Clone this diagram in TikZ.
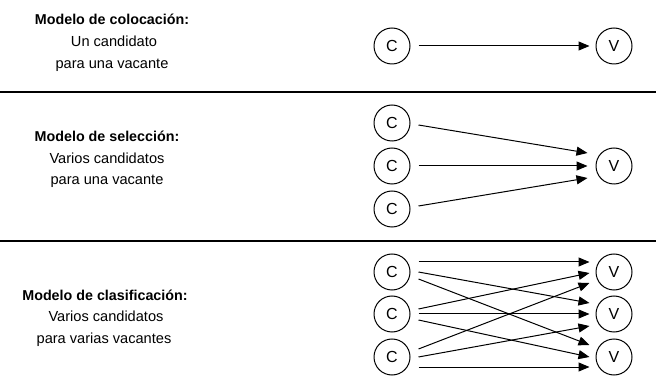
\documentclass[tikz,border=0pt]{standalone}
\usepackage{fontspec}
\setmainfont{Liberation Sans}
\usetikzlibrary{arrows.meta}
\begin{document}
\begin{tikzpicture}[x=1pt,y=-1pt,
  every node/.style={font=\fontsize{14.6}{18}\selectfont},
  circ/.style={draw,circle,minimum size=36pt,inner sep=0pt,line width=1pt,font=\fontsize{16}{18}\selectfont},
  lbl/.style={anchor=base},
  hd/.style={anchor=base,font=\fontsize{14.3}{18}\selectfont\bfseries},
  arr/.style={line width=1pt,-{Triangle[length=11pt,width=9pt]}},
  sep/.style={line width=1.4pt}]
\useasboundingbox (0,0) rectangle (656,387);
% separators
\coordinate (s1a) at (0,92); \coordinate (s1b) at (656,92);
\coordinate (s2a) at (0,241); \coordinate (s2b) at (656,241);
\draw[sep] (s1a) -- (s1b);
\draw[sep] (s2a) -- (s2b);
% panel 1
\node[hd] (t11) at (112,25) {Modelo de colocación:};
\node[lbl] (t12) at (114,47) {Un candidato};
\node[lbl] (t13) at (112,69) {para una vacante};
\node[circ] (a1) at (392,46) {C};
\node[circ] (av) at (614,46) {V};
\draw[arr] ([xshift=8pt]a1.east) -- ([xshift=-6pt]av.west);
% panel 2
\node[hd] (t21) at (107,142) {Modelo de selección:};
\node[lbl] (t22) at (107,164) {Varios candidatos};
\node[lbl] (t23) at (107,185) {para una vacante};
\node[circ] (b1) at (392,123) {C};
\node[circ] (b2) at (392,166) {C};
\node[circ] (b3) at (392,209) {C};
\node[circ] (bv) at (614,166) {V};
\draw[arr] ([xshift=8pt,yshift=-2pt]b1.east) -- ([xshift=-8pt,yshift=13pt]bv.west);
\draw[arr] ([xshift=8pt]b2.east) -- ([xshift=-8pt]bv.west);
\draw[arr] ([xshift=8pt,yshift=3pt]b3.east) -- ([xshift=-8pt,yshift=-12pt]bv.west);
% panel 3
\node[hd] (t31) at (105,301) {Modelo de clasificación:};
\node[lbl] (t32) at (106,322) {Varios candidatos};
\node[lbl] (t33) at (104,343) {para varias vacantes};
\node[circ] (c1) at (392,272) {C};
\node[circ] (c2) at (392,314) {C};
\node[circ] (c3) at (392,357) {C};
\node[circ] (v1) at (614,272) {V};
\node[circ] (v2) at (614,314) {V};
\node[circ] (v3) at (614,357) {V};
\draw[arr] ([xshift=8pt,yshift=10pt]c1.east) -- ([xshift=-6pt,yshift=10pt]v1.west);
\draw[arr] ([xshift=8pt]c1.east) -- ([xshift=-6pt,yshift=11pt]v2.west);
\draw[arr] ([xshift=8pt,yshift=-7pt]c1.east) -- ([xshift=-6pt,yshift=12pt]v3.west);
\draw[arr] ([xshift=8pt,yshift=5pt]c2.east) -- ([xshift=-6pt,yshift=-1pt]v1.west);
\draw[arr] ([xshift=8pt]c2.east) -- ([xshift=-6pt]v2.west);
\draw[arr] ([xshift=8pt,yshift=-6pt]c2.east) -- ([xshift=-6pt]v3.west);
\draw[arr] ([xshift=8pt,yshift=8pt]c3.east) -- ([xshift=-6pt,yshift=-11pt]v1.west);
\draw[arr] ([xshift=8pt]c3.east) -- ([xshift=-6pt,yshift=-12pt]v2.west);
\draw[arr] ([xshift=8pt,yshift=-10pt]c3.east) -- ([xshift=-6pt,yshift=-10pt]v3.west);
\end{tikzpicture}
\end{document}
